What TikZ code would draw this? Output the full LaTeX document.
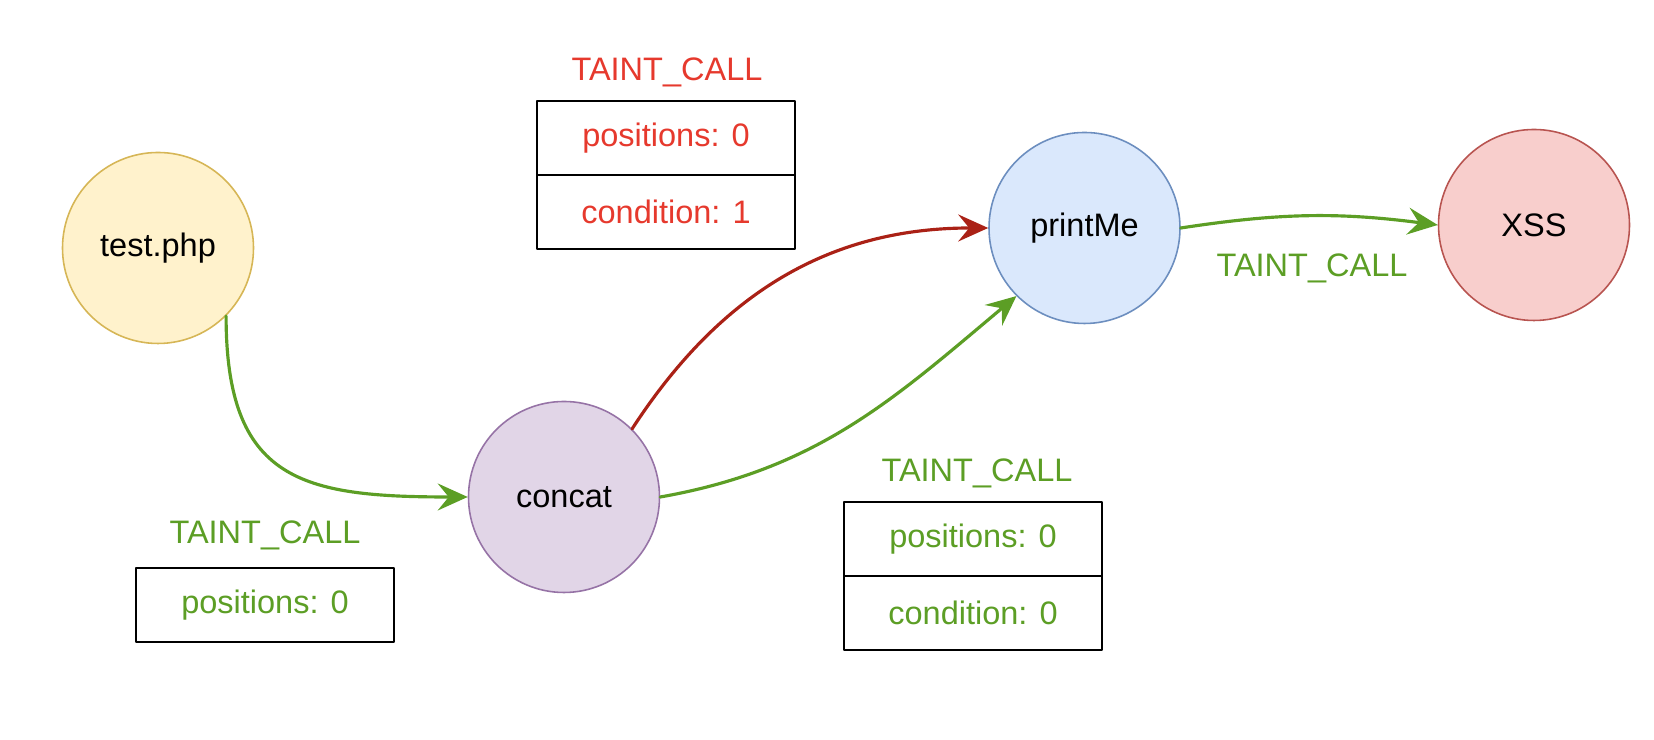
\documentclass[tikz,border=0pt]{standalone}
\usepackage{fontspec}
\setmainfont{Liberation Sans}
\usepackage{tikz}
\definecolor{ink}{HTML}{000000}
\definecolor{taintgreen}{HTML}{5C9E25}
\definecolor{taintred}{HTML}{E6392D}
\definecolor{flowred}{HTML}{AA2116}
\definecolor{fileFill}{HTML}{FFF2CC}
\definecolor{fileDraw}{HTML}{D6B656}
\definecolor{funcFill}{HTML}{E1D5E7}
\definecolor{funcDraw}{HTML}{9673A6}
\definecolor{sinkFill}{HTML}{DAE8FC}
\definecolor{sinkDraw}{HTML}{6C8EBF}
\definecolor{vulnFill}{HTML}{F8CECC}
\definecolor{vulnDraw}{HTML}{B85450}
\usetikzlibrary{
  arrows.meta,
  positioning
}
\tikzset{
  >={Stealth[length=3mm, width=2.7mm, inset=1.1mm]},
  every picture/.style={line cap=round, line join=round},
  every node/.style={font=\fontsize{9.25}{11}\selectfont, text=ink},
  fnode/.style={
    circle,
    line width=0.45pt,
    minimum size=1.91cm,
    inner sep=0pt
  },
  fileNode/.style={fnode, draw=fileDraw, fill=fileFill},
  funcNode/.style={fnode, draw=funcDraw, fill=funcFill},
  sinkNode/.style={fnode, draw=sinkDraw, fill=sinkFill},
  vulnNode/.style={fnode, draw=vulnDraw, fill=vulnFill},
  row/.style={
    draw=ink,
    line width=0.6pt,
    minimum width=2.58cm,
    minimum height=0.74cm,
    inner sep=0pt,
    outer sep=0pt
  },
  greenrow/.style={row, text=taintgreen},
  redrow/.style={row, text=taintred},
  flow/.style={->, line width=0.9pt, draw=taintgreen},
  badflow/.style={->, line width=0.9pt, draw=flowred},
  annot/.style={text=taintgreen}
}

\begin{document}
\begin{tikzpicture}
  \useasboundingbox (0,0) rectangle (16.54,7.40);

  \node[fileNode] (test) at (1.58,4.92) {test.php};
  \node[funcNode] (concat) at (5.64,2.43) {concat};
  \node[sinkNode] (printme) at (10.845,5.12) {printMe};
  \node[vulnNode] (xss) at (15.34,5.15) {XSS};

  % edges
  \draw[flow] (test.south east) to[out=-90, in=180, looseness=1.4] (concat.west);
  \draw[badflow] (concat.north east) to[out=57, in=180] (printme.west);
  \draw[flow] (concat.east) to[out=10, in=220] (printme.south west);
  \draw[flow] (printme.east) to[bend left=8] (xss.west);

  % taint labels
  \node[annot] (lblA) at (2.65,2.05) {TAINT\_CALL};
  \node[greenrow] (posA) at (2.65,1.35) {positions: 0};

  \node[text=taintred] (lblB) at (6.67,6.68) {TAINT\_CALL};
  \node[redrow] (posB) at (6.66,6.02) {positions: 0};
  \node[redrow, below=0pt of posB] (condB) {condition: 1};

  \node[annot] (lblC) at (9.77,2.67) {TAINT\_CALL};
  \node[greenrow] (posC) at (9.73,2.01) {positions: 0};
  \node[greenrow, below=0pt of posC] (condC) {condition: 0};

  \node[annot] (lblD) at (13.12,4.72) {TAINT\_CALL};
\end{tikzpicture}
\end{document}
